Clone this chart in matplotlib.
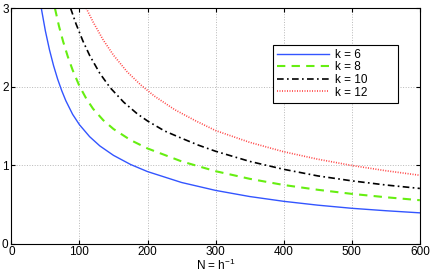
import matplotlib
matplotlib.use("Agg")
import matplotlib.pyplot as plt

# values
n_k6 = [44, 50, 56, 62, 68, 74, 80, 90, 100, 115, 130, 150, 175, 200, 250, 300, 350, 400, 450, 500, 550, 600]
y_k6 = [3.0, 2.71, 2.47, 2.268, 2.096, 1.949, 1.821, 1.647, 1.515, 1.362, 1.244, 1.124, 1.008, 0.917,
        0.778, 0.677, 0.599, 0.538, 0.489, 0.449, 0.418, 0.391]

n_k8 = [64, 70, 76, 83, 90, 100, 110, 120, 135, 150, 175, 200, 250, 300, 350, 400, 450, 500, 550, 600]
y_k8 = [3.0, 2.77, 2.577, 2.381, 2.212, 2.008, 1.848, 1.718, 1.572, 1.46, 1.319, 1.212, 1.047, 0.922,
        0.825, 0.746, 0.685, 0.633, 0.59, 0.552]

n_k10 = [87, 95, 105, 115, 130, 145, 165, 185, 200, 225, 250, 275, 300, 350, 400, 450, 500, 550, 600]
y_k10 = [3.0, 2.80, 2.584, 2.398, 2.169, 1.988, 1.802, 1.653, 1.5625, 1.435, 1.342, 1.253, 1.176, 1.047,
         0.946, 0.862, 0.799, 0.746, 0.702]

n_k12 = [110, 120, 135, 150, 170, 190, 210, 240, 270, 300, 350, 400, 450, 500, 550, 600]
y_k12 = [3.0, 2.825, 2.594, 2.401, 2.19, 2.022, 1.88, 1.706, 1.567, 1.44, 1.29, 1.17, 1.075, 0.995,
         0.928, 0.87]

labels = ["k = 6", "k = 8", "k = 10", "k = 12"]

plt.rcParams['font.family'] = ['Liberation Sans', 'DejaVu Sans']
plt.rcParams['mathtext.fontset'] = 'custom'
plt.rcParams['mathtext.rm'] = 'Liberation Sans'

fig = plt.figure(figsize=(4.36, 2.73), dpi=100)
ax = fig.add_axes([0.026, 0.108, 0.937, 0.862])

ax.plot(n_k6, y_k6, color="#3355ff", lw=1.0, ls="-", label=labels[0])
ax.plot(n_k8, y_k8, color="#66ee11", lw=1.5, ls=(0, (4, 3)), label=labels[1])
ax.plot(n_k10, y_k10, color="black", lw=1.2, ls=(0, (4, 2, 1, 2)), label=labels[2])
ax.plot(n_k12, y_k12, color="#ff4444", lw=1.2, ls=(0, (0.6, 0.9)), label=labels[3])

ax.set_xlim(0, 600)
ax.set_ylim(0, 3)
ax.set_xticks([0, 100, 200, 300, 400, 500, 600])
ax.set_yticks([0, 1, 2, 3])
ax.grid(True, ls=":", color="#b8b8b8", lw=0.7)
ax.tick_params(direction="in", top=True, right=True, labelsize=8.5, length=3, pad=2)
for s in ax.spines.values():
    s.set_linewidth(0.8)
ax.set_xlabel("N = h$^{-1}$", fontsize=8.5, labelpad=0)

leg = ax.legend(loc="upper left", bbox_to_anchor=(0.64, 0.6, 0.306, 0.245), mode="expand",
                fontsize=8.5, frameon=True, fancybox=False, edgecolor="black", framealpha=1,
                handlelength=4.4, borderpad=0.35, labelspacing=0.05, handletextpad=0.5,
                borderaxespad=0)
leg.get_frame().set_linewidth(0.8)

fig.savefig("out.png", dpi=100)
